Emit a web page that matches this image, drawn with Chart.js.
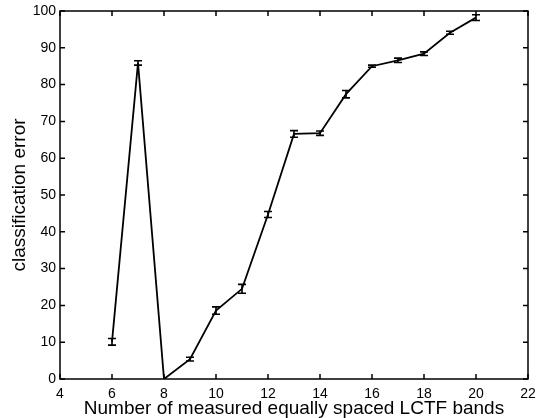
<!DOCTYPE html>
<html>
<head>
<meta charset="utf-8">
<script src="https://cdn.jsdelivr.net/npm/chart.js@4"></script>
<style>
  html, body { margin: 0; padding: 0; background: #fff; }
  #wrap { width: 536px; height: 418px; }
</style>
</head>
<body>
<div id="wrap"><canvas id="myChart" width="536" height="418"></canvas></div>
<script>
var bands = [6, 7, 8, 9, 10, 11, 12, 13, 14, 15, 16, 17, 18, 19, 20];
var errorMean = [10.1, 85.9, 0, 5.4, 18.6, 24.5, 44.7, 66.6, 66.8, 77.4, 85.0, 86.6, 88.4, 94.1, 98.2];
var errorSpread = [0.9, 0.6, 0, 0.5, 1.0, 1.2, 0.8, 0.9, 0.6, 1.0, 0.3, 0.6, 0.5, 0.4, 0.8];
var xTicks = [4, 6, 8, 10, 12, 14, 16, 18, 20, 22];
var yTicks = [0, 10, 20, 30, 40, 50, 60, 70, 80, 90, 100];

var points = bands.map(function(b, i){ return {x: b, y: errorMean[i]}; });

// error bars + matlab style box with inward ticks
var boxPlugin = {
	id: 'box',
	afterDatasetsDraw: function(chart){
		var ctx = chart.ctx, xs = chart.scales.x, ys = chart.scales.y;
		ctx.save();
		ctx.strokeStyle = '#000';
		ctx.lineWidth = 1.6;
		for (var i = 0; i < bands.length; i++) {
			if (errorSpread[i] === 0) continue;
			var px = xs.getPixelForValue(bands[i]);
			var top = ys.getPixelForValue(errorMean[i] + errorSpread[i]);
			var bot = ys.getPixelForValue(errorMean[i] - errorSpread[i]);
			ctx.beginPath();
			ctx.moveTo(px, top); ctx.lineTo(px, bot);
			ctx.moveTo(px - 4, top); ctx.lineTo(px + 4, top);
			ctx.moveTo(px - 4, bot); ctx.lineTo(px + 4, bot);
			ctx.stroke();
		}
		var a = chart.chartArea;
		ctx.lineWidth = 1.5;
		ctx.strokeRect(a.left, a.top, a.right - a.left, a.bottom - a.top);
		ctx.beginPath();
		xTicks.forEach(function(t){
			var px = xs.getPixelForValue(t);
			ctx.moveTo(px, a.bottom); ctx.lineTo(px, a.bottom - 5);
			ctx.moveTo(px, a.top); ctx.lineTo(px, a.top + 5);
		});
		yTicks.forEach(function(t){
			var py = ys.getPixelForValue(t);
			ctx.moveTo(a.left, py); ctx.lineTo(a.left + 5, py);
			ctx.moveTo(a.right, py); ctx.lineTo(a.right - 5, py);
		});
		ctx.stroke();
		ctx.restore();
	}
};

var ctx = document.getElementById("myChart").getContext('2d');
var myChart = new Chart(ctx, {
	type: 'line',
	data: {
		datasets: [{
			data: points,
			borderColor: '#000',
			borderWidth: 1.8,
			pointRadius: 0,
			tension: 0,
			fill: false
		}]
	},
	plugins: [boxPlugin],
	options: {
		responsive: false,
		animation: false,
		layout: { padding: { left: 0, right: 8, top: 11, bottom: 0 } },
		plugins: { legend: { display: false }, tooltip: { enabled: false } },
		scales: {
			x: {
				type: 'linear',
				min: 4, max: 22,
				afterBuildTicks: function(s){ s.ticks = xTicks.map(function(v){ return {value: v}; }); },
				afterFit: function(s){ s.height = 39; s.paddingLeft = 0; s.paddingRight = 0; },
				grid: { display: false, drawTicks: false },
				border: { display: false },
				ticks: { color: '#000', padding: 7, maxRotation: 0, font: { family: 'Liberation Sans', size: 14 } },
				title: { display: true, text: 'Number of measured equally spaced LCTF bands', color: '#000', padding: { top: 0, bottom: 0 }, font: { family: 'Liberation Sans', size: 19, lineHeight: 1 } }
			},
			y: {
				min: 0, max: 100,
				afterBuildTicks: function(s){ s.ticks = yTicks.map(function(v){ return {value: v}; }); },
				afterFit: function(s){ s.width = 60; s.paddingTop = 0; s.paddingBottom = 0; },
				grid: { display: false, drawTicks: false },
				border: { display: false },
				ticks: { color: '#000', padding: 4, font: { family: 'Liberation Sans', size: 14 } },
				title: { display: true, text: 'classification error', color: '#000', padding: { top: 10, bottom: 0 }, font: { family: 'Liberation Sans', size: 19, lineHeight: 1 } }
			}
		}
	}
});
</script>
</body>
</html>
